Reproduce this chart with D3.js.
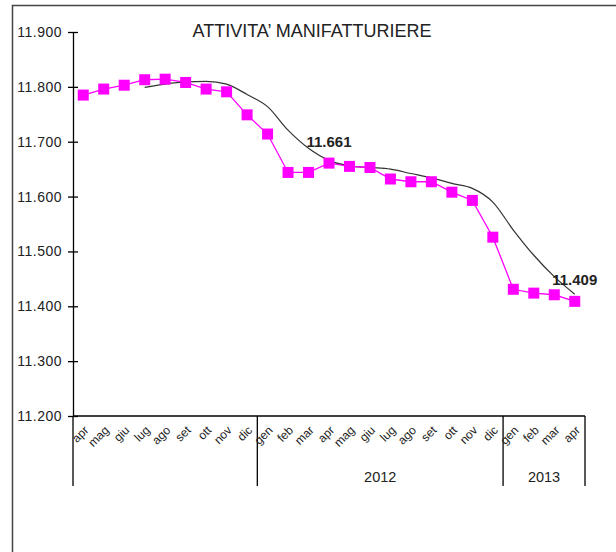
<!DOCTYPE html>
<html>
<head>
<meta charset="utf-8">
<script src="https://cdn.jsdelivr.net/npm/d3@7"></script>
<style>
  body { margin: 0; background: #fff; }
  svg { display: block; font-family: "Liberation Sans", Arial, sans-serif; }
</style>
</head>
<body>
<svg id="chart" width="616" height="552"></svg>
<script>

const title = 'ATTIVITA\u2019 MANIFATTURIERE';

const months = ['apr', 'mag', 'giu', 'lug', 'ago', 'set', 'ott', 'nov', 'dic',
  'gen', 'feb', 'mar', 'apr', 'mag', 'giu', 'lug', 'ago', 'set', 'ott', 'nov', 'dic',
  'gen', 'feb', 'mar', 'apr'];

// year groups under the month labels (first group has no label)
const yearLabels = ['', '2012', '2013'];
const yearStarts = [0, 9, 21];

const values = [11785, 11796, 11803, 11813, 11814, 11808, 11796, 11791, 11749,
  11714, 11644, 11644, 11661, 11655, 11653, 11632, 11627, 11627, 11608, 11593, 11526,
  11431, 11424, 11421, 11409];

// trend line, starts at lug 2011
const trend = [null, null, null, 11799, 11805, 11809, 11810, 11805, 11786,
  11764, 11721, 11688, 11666, 11656, 11653, 11650, 11642, 11634, 11624, 11615, 11590,
  11539, 11493, 11454, 11422];

const yTicks = [11200, 11300, 11400, 11500, 11600, 11700, 11800, 11900];

// points that get a value label
const labelIdx = [12, 24];

const it = d3.formatLocale({ decimal: ',', thousands: '.', grouping: [3], currency: ['', '€'] });
const fmt = it.format(',.0f');

const svg = d3.select('#chart');

const x = d3.scaleBand()
  .domain(d3.range(months.length))
  .range([73, 585]);

const y = d3.scaleLinear()
  .domain([11200, 11900])
  .range([416, 32]);

const cx = i => x(i) + x.bandwidth() / 2;

// outer frame (only left and top edges visible)
svg.append('rect')
  .attr('x', 12.5).attr('y', 5.5)
  .attr('width', 640).attr('height', 600)
  .attr('fill', 'none')
  .attr('stroke', '#444')
  .attr('stroke-width', 1.5);

// title
svg.append('text')
  .attr('x', 312).attr('y', 37)
  .attr('text-anchor', 'middle')
  .attr('font-size', 18)
  .attr('fill', '#222')
  .text(title);

// y axis
const yAxis = svg.append('g')
  .attr('transform', 'translate(73,0)')
  .call(d3.axisLeft(y).tickValues(yTicks).tickFormat(fmt).tickSize(0).tickPadding(11));
yAxis.select('.domain').attr('stroke', '#000').attr('stroke-width', 1.3);
yAxis.selectAll('.tick text').attr('font-size', 14).attr('fill', '#222')
  .attr('letter-spacing', 0.5)
  .attr('font-family', '"Liberation Sans", Arial, sans-serif');
yAxis.selectAll('.tick').append('line')
  .attr('x1', -5).attr('x2', 5)
  .attr('stroke', '#000').attr('stroke-width', 1.3);

// x axis line
svg.append('line')
  .attr('x1', 73).attr('x2', x.range()[1])
  .attr('y1', y(11200)).attr('y2', y(11200))
  .attr('stroke', '#000').attr('stroke-width', 1.3);

// year separators
const sepX = yearStarts.map(s => x(s)).concat([x.range()[1]]);
svg.append('g')
  .selectAll('line')
  .data(sepX)
  .enter()
  .append('line')
  .attr('x1', d => d).attr('x2', d => d)
  .attr('y1', y(11200)).attr('y2', 486)
  .attr('stroke', '#000').attr('stroke-width', 1.3);

// year labels
svg.append('g')
  .selectAll('text')
  .data(yearLabels)
  .enter()
  .append('text')
  .attr('x', (d, i) => (sepX[i] + sepX[i + 1]) / 2)
  .attr('y', 482)
  .attr('text-anchor', 'middle')
  .attr('font-size', 14.5)
  .attr('fill', '#222')
  .text(d => d);

// month labels, rotated
svg.append('g')
  .selectAll('text')
  .data(months)
  .enter()
  .append('text')
  .attr('transform', (d, i) => `translate(${cx(i) + 3},${y(11200) + 12}) rotate(-45)`)
  .attr('text-anchor', 'end')
  .attr('dy', '0.35em')
  .attr('font-size', 12)
  .attr('fill', '#222')
  .text(d => d);

// trend line
svg.append('path')
  .datum(trend.map((v, i) => [i, v]).filter(d => d[1] != null))
  .attr('d', d3.line().x(d => cx(d[0])).y(d => y(d[1])).curve(d3.curveMonotoneX))
  .attr('fill', 'none')
  .attr('stroke', '#333')
  .attr('stroke-width', 1.2);

// main series
svg.append('path')
  .datum(values)
  .attr('d', d3.line().x((d, i) => cx(i)).y(d => y(d)))
  .attr('fill', 'none')
  .attr('stroke', '#ff00ff')
  .attr('stroke-width', 1.3);

svg.append('g')
  .selectAll('rect')
  .data(values)
  .enter()
  .append('rect')
  .attr('x', (d, i) => cx(i) - 5.5)
  .attr('y', d => y(d) - 5.5)
  .attr('width', 11)
  .attr('height', 11)
  .attr('fill', '#ff00ff');

// value labels
svg.append('g')
  .selectAll('text')
  .data(labelIdx)
  .enter()
  .append('text')
  .attr('x', i => cx(i))
  .attr('y', i => y(values[i]) - 16)
  .attr('text-anchor', 'middle')
  .attr('font-size', 15)
  .attr('font-weight', 'bold')
  .attr('fill', '#222')
  .text(i => fmt(values[i]));

</script>
</body>
</html>
